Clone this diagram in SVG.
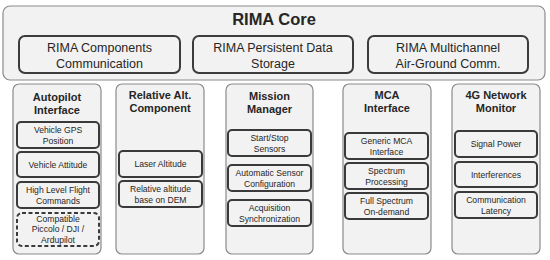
<svg xmlns="http://www.w3.org/2000/svg" width="550" height="260" viewBox="0 0 550 260">
<style>
text{font-family:"Liberation Sans",Arial,sans-serif;fill:#262626;text-anchor:middle}
.core{fill:#f2f2f2;stroke:#8a8a8a;stroke-width:1.2}
.top{fill:#f2f2f2;stroke:#3c3c3c;stroke-width:2}
.col{fill:#f2f2f2;stroke:#8a8a8a;stroke-width:1.2}
.sub{fill:#f2f2f2;stroke:#3a3a3a;stroke-width:2}
.dash{stroke-dasharray:4 2.5}
.t1{font-size:16.5px;font-weight:bold}
.t2{font-size:12.5px}
.ct{font-size:11px;font-weight:bold}
.st{font-size:8.6px}
</style>
<rect width="550" height="260" fill="#ffffff"/>
<g id="core">
<rect class="core" x="3" y="6" width="542" height="74" rx="7"/>
<text class="t1" x="274" y="25">RIMA Core</text>
</g>
<g id="comp-comm">
<rect class="top" x="19" y="36" width="161" height="37" rx="6"/>
<text class="t2" x="99.5" y="51.5">RIMA Components</text>
<text class="t2" x="99.5" y="67.5">Communication</text>
</g>
<g id="persistent">
<rect class="top" x="193" y="36" width="160" height="37" rx="6"/>
<text class="t2" x="273" y="51.5">RIMA Persistent Data</text>
<text class="t2" x="273" y="67.5">Storage</text>
</g>
<g id="multichannel">
<rect class="top" x="368" y="36" width="160" height="37" rx="6"/>
<text class="t2" x="448" y="51.5">RIMA Multichannel</text>
<text class="t2" x="448" y="67.5">Air-Ground Comm.</text>
</g>

<g id="autopilot">
<rect class="col" x="13" y="84" width="88" height="170" rx="6"/>
<text class="ct" x="57" y="101">Autopilot</text>
<text class="ct" x="57" y="114">Interface</text>
</g>
<g id="gps"><rect class="sub" x="17" y="122" width="82" height="26" rx="4"/>
<text class="st" x="58" y="133">Vehicle GPS</text><text class="st" x="58" y="144">Position</text></g>
<g id="attitude"><rect class="sub" x="17" y="152" width="82" height="25" rx="4"/>
<text class="st" x="58" y="167.5">Vehicle Attitude</text></g>
<g id="flight-cmd"><rect class="sub" x="17" y="182" width="82" height="26" rx="4"/>
<text class="st" x="58" y="193">High Level Flight</text><text class="st" x="58" y="204">Commands</text></g>
<g id="compatible"><rect class="sub dash" x="17" y="213" width="82" height="33" rx="5"/>
<text class="st" x="58" y="221.5">Compatible</text><text class="st" x="58" y="232">Piccolo / DJI /</text><text class="st" x="58" y="243">Ardupilot</text></g>

<g id="relative-alt">
<rect class="col" x="116" y="84" width="88" height="170" rx="6"/>
<text class="ct" x="160" y="99">Relative Alt.</text>
<text class="ct" x="160" y="112">Component</text>
</g>
<g id="laser"><rect class="sub" x="119" y="151" width="83" height="26" rx="4"/>
<text class="st" x="160.5" y="167">Laser Altitude</text></g>
<g id="dem"><rect class="sub" x="119" y="181" width="83" height="26" rx="4"/>
<text class="st" x="160.5" y="192">Relative altitude</text><text class="st" x="160.5" y="203">base on DEM</text></g>

<g id="mission">
<rect class="col" x="226" y="84" width="87" height="170" rx="6"/>
<text class="ct" x="269.5" y="100">Mission</text>
<text class="ct" x="269.5" y="113">Manager</text>
</g>
<g id="startstop"><rect class="sub" x="228" y="130" width="83" height="26" rx="4"/>
<text class="st" x="269.5" y="141">Start/Stop</text><text class="st" x="269.5" y="152">Sensors</text></g>
<g id="autoconf"><rect class="sub" x="228" y="165" width="83" height="26" rx="4"/>
<text class="st" x="269.5" y="176">Automatic Sensor</text><text class="st" x="269.5" y="187">Configuration</text></g>
<g id="acqsync"><rect class="sub" x="228" y="200" width="83" height="26" rx="4"/>
<text class="st" x="269.5" y="211">Acquisition</text><text class="st" x="269.5" y="222">Synchronization</text></g>

<g id="mca">
<rect class="col" x="343" y="84" width="88" height="170" rx="6"/>
<text class="ct" x="387" y="99">MCA</text>
<text class="ct" x="387" y="112">Interface</text>
</g>
<g id="generic-mca"><rect class="sub" x="345" y="133" width="83" height="26" rx="4"/>
<text class="st" x="386.5" y="144">Generic MCA</text><text class="st" x="386.5" y="155">Interface</text></g>
<g id="spectrum"><rect class="sub" x="345" y="163" width="83" height="26" rx="4"/>
<text class="st" x="386.5" y="174">Spectrum</text><text class="st" x="386.5" y="185">Processing</text></g>
<g id="fullspec"><rect class="sub" x="345" y="193" width="83" height="26" rx="4"/>
<text class="st" x="386.5" y="204">Full Spectrum</text><text class="st" x="386.5" y="215">On-demand</text></g>

<g id="network">
<rect class="col" x="452" y="84" width="88" height="170" rx="6"/>
<text class="ct" x="496" y="99">4G Network</text>
<text class="ct" x="496" y="112">Monitor</text>
</g>
<g id="signal"><rect class="sub" x="455" y="131" width="82" height="26" rx="4"/>
<text class="st" x="496" y="147">Signal Power</text></g>
<g id="interf"><rect class="sub" x="455" y="162" width="82" height="25" rx="4"/>
<text class="st" x="496" y="177.5">Interferences</text></g>
<g id="latency"><rect class="sub" x="455" y="192" width="82" height="26" rx="4"/>
<text class="st" x="496" y="203">Communication</text><text class="st" x="496" y="214">Latency</text></g>
<g id="connectors"></g>
</svg>
